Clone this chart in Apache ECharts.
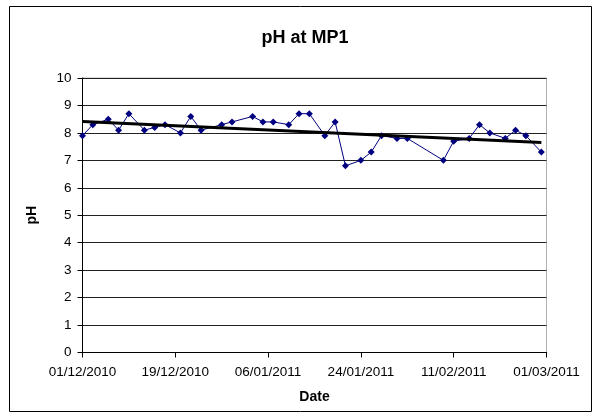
<!DOCTYPE html>
<html>
<head>
<meta charset="utf-8">
<script src="https://cdn.jsdelivr.net/npm/echarts@6/dist/echarts.min.js"></script>
<style>
  html, body { margin: 0; padding: 0; background: #fff; }
  #chart { width: 593px; height: 419px; }
</style>
</head>
<body>
<div id="chart"></div>
<script>
// Sample dates (dd/mm/yyyy) and pH values
var sampleDates = [
  "01/12/2010","03/12/2010","06/12/2010","08/12/2010","10/12/2010","13/12/2010",
  "15/12/2010","17/12/2010","20/12/2010","22/12/2010","24/12/2010","28/12/2010",
  "30/12/2010","03/01/2011","05/01/2011","07/01/2011","10/01/2011","12/01/2011",
  "14/01/2011","17/01/2011","19/01/2011","21/01/2011","24/01/2011","26/01/2011",
  "28/01/2011","31/01/2011","02/02/2011","09/02/2011","11/02/2011","14/02/2011",
  "16/02/2011","18/02/2011","21/02/2011","23/02/2011","25/02/2011","28/02/2011"
];
var phValues = [
  7.9, 8.3, 8.5, 8.1, 8.7, 8.1,
  8.2, 8.3, 8.0, 8.6, 8.1, 8.3,
  8.4, 8.6, 8.4, 8.4, 8.3, 8.7,
  8.7, 7.9, 8.4, 6.8, 7.0, 7.3,
  7.9, 7.8, 7.8, 7.0, 7.7, 7.8,
  8.3, 8.0, 7.8, 8.1, 7.9, 7.3
];
var axisStartDate = "01/12/2010";
var axisEndDate = "01/03/2011";
var tickStepDays = 18;
var yTicks = [0, 1, 2, 3, 4, 5, 6, 7, 8, 9, 10];

var DAY = 86400000;
function parseDMY(s) {
  var p = s.split("/");
  return Date.UTC(+p[2], +p[1] - 1, +p[0]);
}
var origin = parseDMY(axisStartDate);
function toDay(s) { return Math.round((parseDMY(s) - origin) / DAY); }
function fmt(dayOffset) {
  var d = new Date(origin + dayOffset * DAY);
  var dd = ("0" + d.getUTCDate()).slice(-2);
  var mm = ("0" + (d.getUTCMonth() + 1)).slice(-2);
  return dd + "/" + mm + "/" + d.getUTCFullYear();
}

var xs = sampleDates.map(toDay);
var pts = xs.map(function (x, i) { return [x, phValues[i]]; });

// least-squares linear trendline
var n = xs.length, sx = 0, sy = 0, sxx = 0, sxy = 0;
for (var i = 0; i < n; i++) {
  sx += xs[i]; sy += phValues[i]; sxx += xs[i] * xs[i]; sxy += xs[i] * phValues[i];
}
var slope = (n * sxy - sx * sy) / (n * sxx - sx * sx);
var icpt = (sy - slope * sx) / n;
var x0 = xs[0], x1 = xs[n - 1];
var trend = [[x0, icpt + slope * x0], [x1, icpt + slope * x1]];

var chart = echarts.init(document.getElementById("chart"), null, { renderer: "canvas" });
var FONT = "Liberation Sans, Arial, sans-serif";
chart.setOption({
  animation: false,
  backgroundColor: "#fff",
  title: {
    text: "pH at MP1",
    left: 300, top: 33, textAlign: "center", textVerticalAlign: "middle",
    textStyle: { fontFamily: FONT, fontSize: 18, fontWeight: "bold", color: "#000" }
  },
  graphic: [{
    type: "rect",
    shape: { x: 9.5, y: 6.5, width: 582, height: 405 },
    style: { fill: "none", stroke: "#000", lineWidth: 1 },
    z: 100
  }],
  grid: {
    left: 82.5, right: 46.5, top: 78, bottom: 66.5,
    show: true, borderColor: "#b0b0b0", borderWidth: 1, backgroundColor: "#fff"
  },
  xAxis: {
    type: "value",
    min: 0, max: toDay(axisEndDate), interval: tickStepDays,
    name: "Date", nameLocation: "middle", nameGap: 38,
    nameTextStyle: { fontFamily: FONT, fontSize: 14, fontWeight: "bold", color: "#000" },
    axisLine: { show: true, onZero: false, lineStyle: { color: "#000", width: 1 } },
    axisTick: { show: true, length: 5, lineStyle: { color: "#000" } },
    axisLabel: {
      fontFamily: FONT, fontSize: 13.5, color: "#000", margin: 13,
      formatter: function (v) { return fmt(v); }
    },
    splitLine: { show: false }
  },
  yAxis: {
    type: "value",
    min: yTicks[0], max: yTicks[yTicks.length - 1], interval: 1,
    name: "pH", nameLocation: "middle", nameGap: 43,
    nameTextStyle: { fontFamily: FONT, fontSize: 14, fontWeight: "bold", color: "#000" },
    axisLine: { show: true, lineStyle: { color: "#000", width: 1 } },
    axisTick: { show: true, length: 5, lineStyle: { color: "#000" } },
    axisLabel: { fontFamily: FONT, fontSize: 13.5, color: "#000", margin: 11 },
    splitLine: { show: true, lineStyle: { color: "#222", width: 1 } }
  },
  series: [
    {
      type: "line",
      data: pts,
      symbol: "diamond",
      symbolSize: 7,
      itemStyle: { color: "#000080" },
      lineStyle: { color: "#000080", width: 1 },
      z: 3
    },
    {
      type: "line",
      data: trend,
      symbol: "none",
      lineStyle: { color: "#000", width: 3 },
      z: 4
    }
  ]
});
</script>
</body>
</html>
